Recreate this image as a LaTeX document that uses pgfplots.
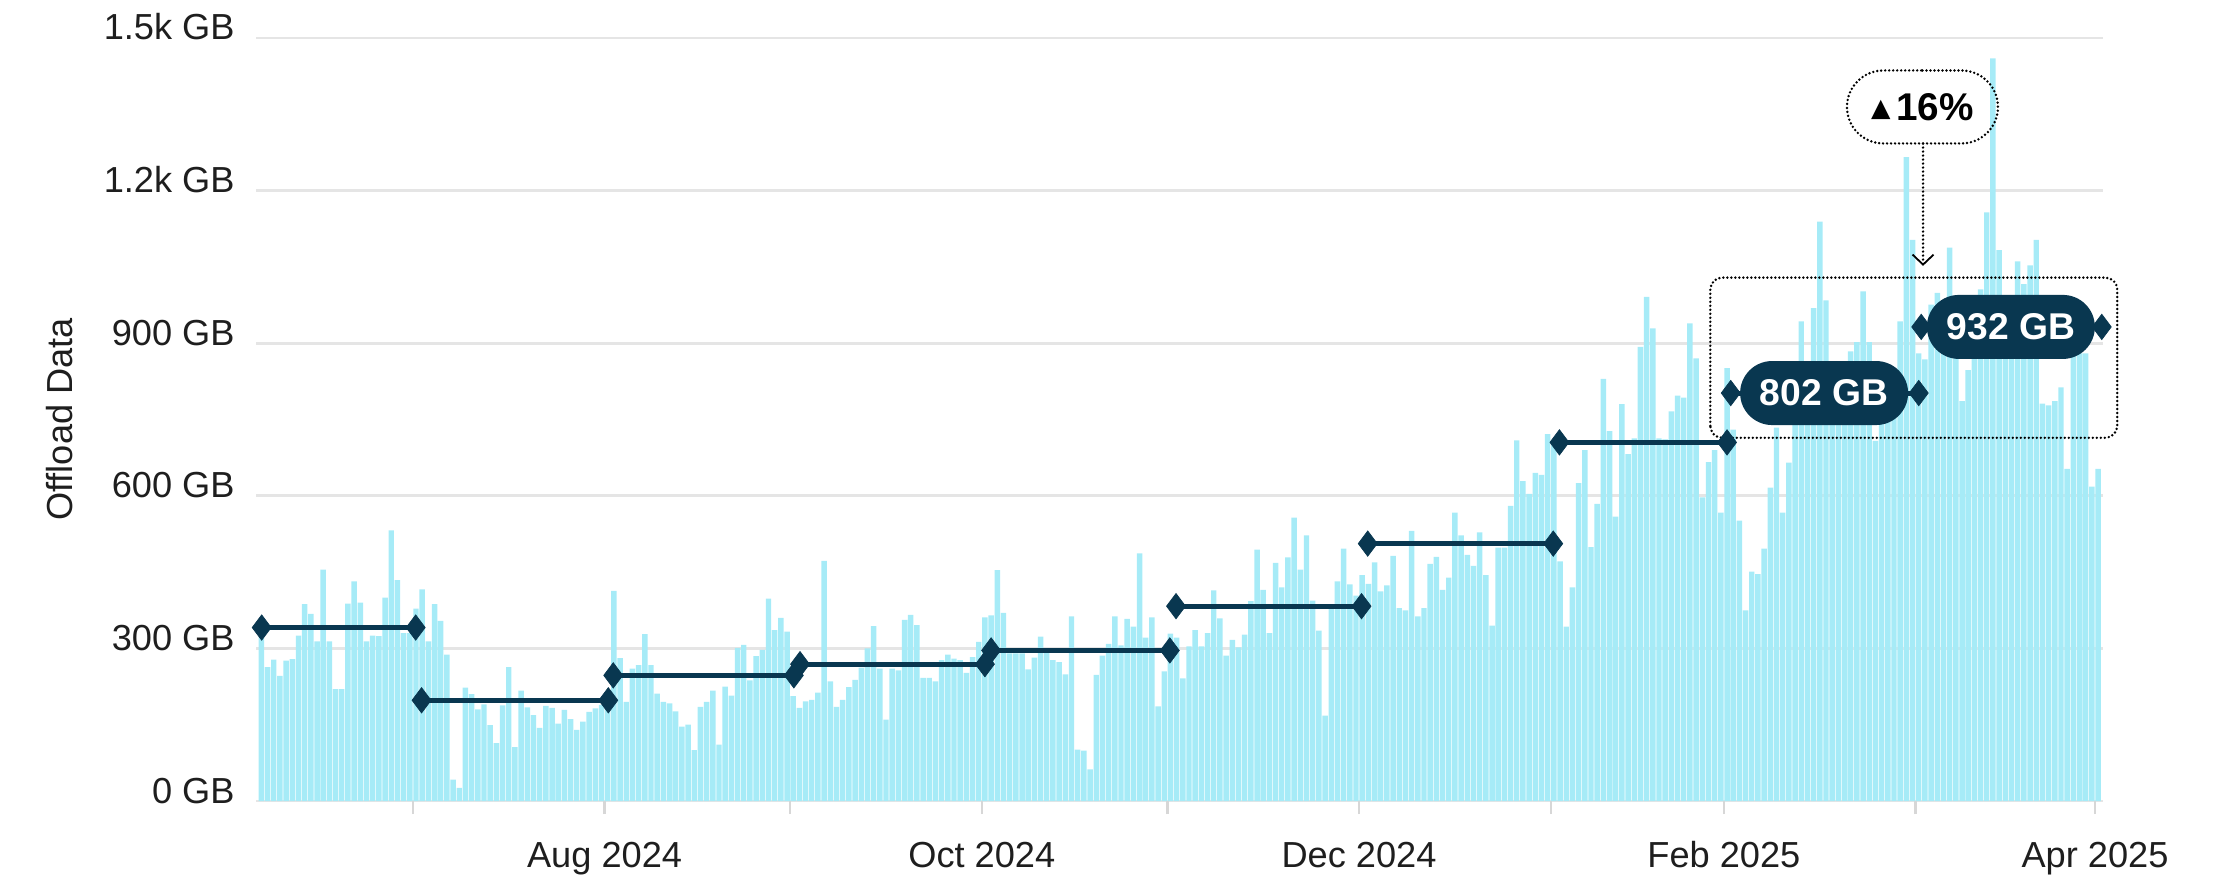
\documentclass[border=0pt]{standalone}
\usepackage{pgfplots}
\pgfplotsset{compat=1.18}
\usepackage{pgfplotstable}
\usetikzlibrary{shapes.misc}
\usepackage{fontspec}
\setmainfont{Liberation Sans}
\newfontfamily\dejavu{DejaVu Sans}
\definecolor{barcyan}{RGB}{166,235,247}
\definecolor{navy}{RGB}{9,55,80}
\definecolor{gridgray}{RGB}{229,229,229}
\definecolor{tickgray}{RGB}{215,215,215}
\definecolor{labelblack}{RGB}{30,30,30}

% daily offload data (GB), one bar per day, in order
\pgfplotstableread[row sep=\\]{
v\\
322\\ 263\\ 278\\ 246\\ 276\\ 279\\ 325\\ 387\\ 368\\ 314\\ 455\\ 314\\ 220\\ 220\\ 388\\ 432\\ 390\\ 314\\ 325\\ 324\\ 400\\ 532\\ 434\\ 330\\ 330\\
378\\ 416\\ 314\\ 387\\ 354\\ 288\\ 42\\ 26\\ 223\\ 210\\ 180\\ 190\\ 149\\ 114\\ 188\\ 263\\ 106\\ 217\\ 184\\ 169\\ 144\\ 187\\ 183\\ 152\\ 179\\ 161\\ 140\\ 156\\ 175\\ 182\\ 189\\
197\\ 413\\ 281\\ 195\\ 260\\ 267\\ 328\\ 267\\ 211\\ 195\\ 192\\ 176\\ 146\\ 150\\ 100\\ 185\\ 195\\ 217\\ 111\\ 225\\ 207\\ 301\\ 307\\ 237\\ 285\\ 297\\ 398\\ 336\\ 360\\ 333\\
206\\ 183\\ 196\\ 199\\ 213\\ 472\\ 235\\ 185\\ 199\\ 224\\ 238\\ 262\\ 300\\ 344\\ 260\\ 160\\ 260\\ 257\\ 356\\ 366\\ 346\\ 242\\ 242\\ 235\\ 277\\ 288\\ 280\\ 277\\ 252\\ 283\\ 313\\
361\\ 365\\ 454\\ 370\\ 290\\ 290\\ 290\\ 259\\ 282\\ 323\\ 293\\ 277\\ 273\\ 249\\ 363\\ 101\\ 99\\ 62\\ 248\\ 286\\ 309\\ 363\\ 306\\ 358\\ 343\\ 487\\ 321\\ 361\\ 186\\ 255\\
329\\ 321\\ 241\\ 304\\ 336\\ 304\\ 330\\ 414\\ 359\\ 286\\ 317\\ 302\\ 327\\ 393\\ 494\\ 415\\ 330\\ 468\\ 420\\ 479\\ 557\\ 455\\ 522\\ 394\\ 335\\ 168\\ 383\\ 432\\ 496\\ 426\\ 404\\
444\\ 427\\ 469\\ 412\\ 424\\ 482\\ 379\\ 375\\ 531\\ 363\\ 379\\ 466\\ 480\\ 415\\ 439\\ 567\\ 522\\ 484\\ 462\\ 528\\ 444\\ 345\\ 498\\ 498\\ 580\\ 709\\ 629\\ 604\\ 645\\ 641\\ 721\\
700\\ 471\\ 343\\ 420\\ 625\\ 690\\ 499\\ 584\\ 830\\ 727\\ 559\\ 780\\ 682\\ 713\\ 893\\ 991\\ 929\\ 713\\ 711\\ 766\\ 797\\ 793\\ 939\\ 870\\ 597\\ 666\\ 690\\ 567\\
851\\ 730\\ 551\\ 375\\ 451\\ 446\\ 496\\ 616\\ 734\\ 567\\ 665\\ 780\\ 943\\ 820\\ 969\\ 1139\\ 984\\ 800\\ 820\\ 790\\ 884\\ 902\\ 1002\\ 902\\ 708\\ 820\\ 790\\ 850\\ 943\\ 1266\\ 1103\\
880\\ 868\\ 976\\ 999\\ 950\\ 1088\\ 920\\ 786\\ 847\\ 950\\ 1006\\ 1157\\ 1460\\ 1083\\ 960\\ 940\\ 1061\\ 1016\\ 1053\\ 1103\\ 781\\ 778\\ 786\\ 813\\ 653\\ 880\\ 880\\ 880\\ 618\\ 653\\
}\bars

\tikzset{
  avgline/.style={navy, line width=0.5mm, mark=diamond*, mark size=3.6pt,
    mark options={solid, fill=navy, draw=navy, line width=0.2pt}},
  dotline/.style={draw=black, line width=0.27mm, line cap=round, dash pattern=on 0pt off 0.4mm},
  pill/.style={rounded rectangle, fill=navy, text=white, inner sep=0pt,
    minimum width=16.8mm, minimum height=6.4mm,
    font=\fontsize{10.6}{12}\selectfont\bfseries},
}

\begin{document}
\begin{tikzpicture}
\useasboundingbox (-25.6mm,-7.4mm) rectangle (196.5mm,80.1mm);
\begin{axis}[
  at={(0,0)}, anchor=south west,
  scale only axis, width=184.7mm, height=76.3mm,
  xmin=-0.37, xmax=298.3, ymin=0, ymax=1500,
  clip=false,
  axis line style={draw=none},
  ymajorgrids, grid style={line width=0.27mm, gridgray},
  ytick={0,300,600,900,1200,1500},
  yticklabels={0 GB,300 GB,600 GB,900 GB,1.2k GB,1.5k GB},
  xtick={25,56,86,117,147,178,209,237,268,297},
  xticklabels={,Aug 2024,,Oct 2024,,Dec 2024,,Feb 2025,,Apr 2025},
  tick align=outside,
  xtick pos=bottom, ytick pos=left,
  major tick length=1.3mm,
  xtick style={draw=tickgray, line width=0.25mm},
  ytick style={draw=none},
  tick label style={font=\fontsize{10.3}{12}\selectfont, text=labelblack},
  yticklabel style={anchor=base east, xshift=0.4mm, yshift=-0.2mm},
  xticklabel style={anchor=base, yshift=-5.3mm},
]
\addplot[ybar, bar width=0.88, bar shift=0pt, fill=barcyan, draw=none]
  table[x expr=\coordindex+0.5, y=v] {\bars};

\addplot[avgline] coordinates {(0.55,341) (25.45,341)};
\addplot[avgline] coordinates {(26.4,198) (56.6,198)};
\addplot[avgline] coordinates {(57.4,247) (86.6,247)};
\addplot[avgline] coordinates {(87.6,269) (117.5,269)};
\addplot[avgline] coordinates {(118.5,296) (147.4,296)};
\addplot[avgline] coordinates {(148.4,383) (178.4,383)};
\addplot[avgline] coordinates {(179.4,506) (209.4,506)};
\addplot[avgline] coordinates {(210.4,705) (237.5,705)};
\addplot[avgline] coordinates {(238.1,802) (268.5,802)};
\addplot[avgline] coordinates {(268.9,932) (298.1,932)};

\draw[dotline, rounded corners=1.2mm] (axis cs:234.8,714) rectangle (axis cs:300.6,1029);
\node[pill] at (axis cs:253.2,802) {802 GB};
\node[pill] at (axis cs:283.4,932) {932 GB};

\node[rounded rectangle, dotline, minimum width=15.1mm, minimum height=7.3mm, inner sep=0pt]
  at (axis cs:269.1,1364.4)
  {\raisebox{0.35mm}{\dejavu\fontsize{7.2}{8}\selectfont ▲}\hspace{0.6mm}{\fontsize{11}{13}\selectfont\bfseries 16\%}};
\draw[dotline] (axis cs:269.2,1292.5) -- (axis cs:269.2,1062);
\draw[black, line width=0.18mm] (axis cs:269.2,1054.5) ++(-1.05mm,1.0mm) -- ++(1.05mm,-1.0mm) -- ++(1.05mm,1.0mm);

\node[rotate=90, font=\fontsize{10.3}{12}\selectfont, text=labelblack]
  at (axis description cs:-0.1061,0.5) {Offload Data};
\end{axis}
\end{tikzpicture}
\end{document}
